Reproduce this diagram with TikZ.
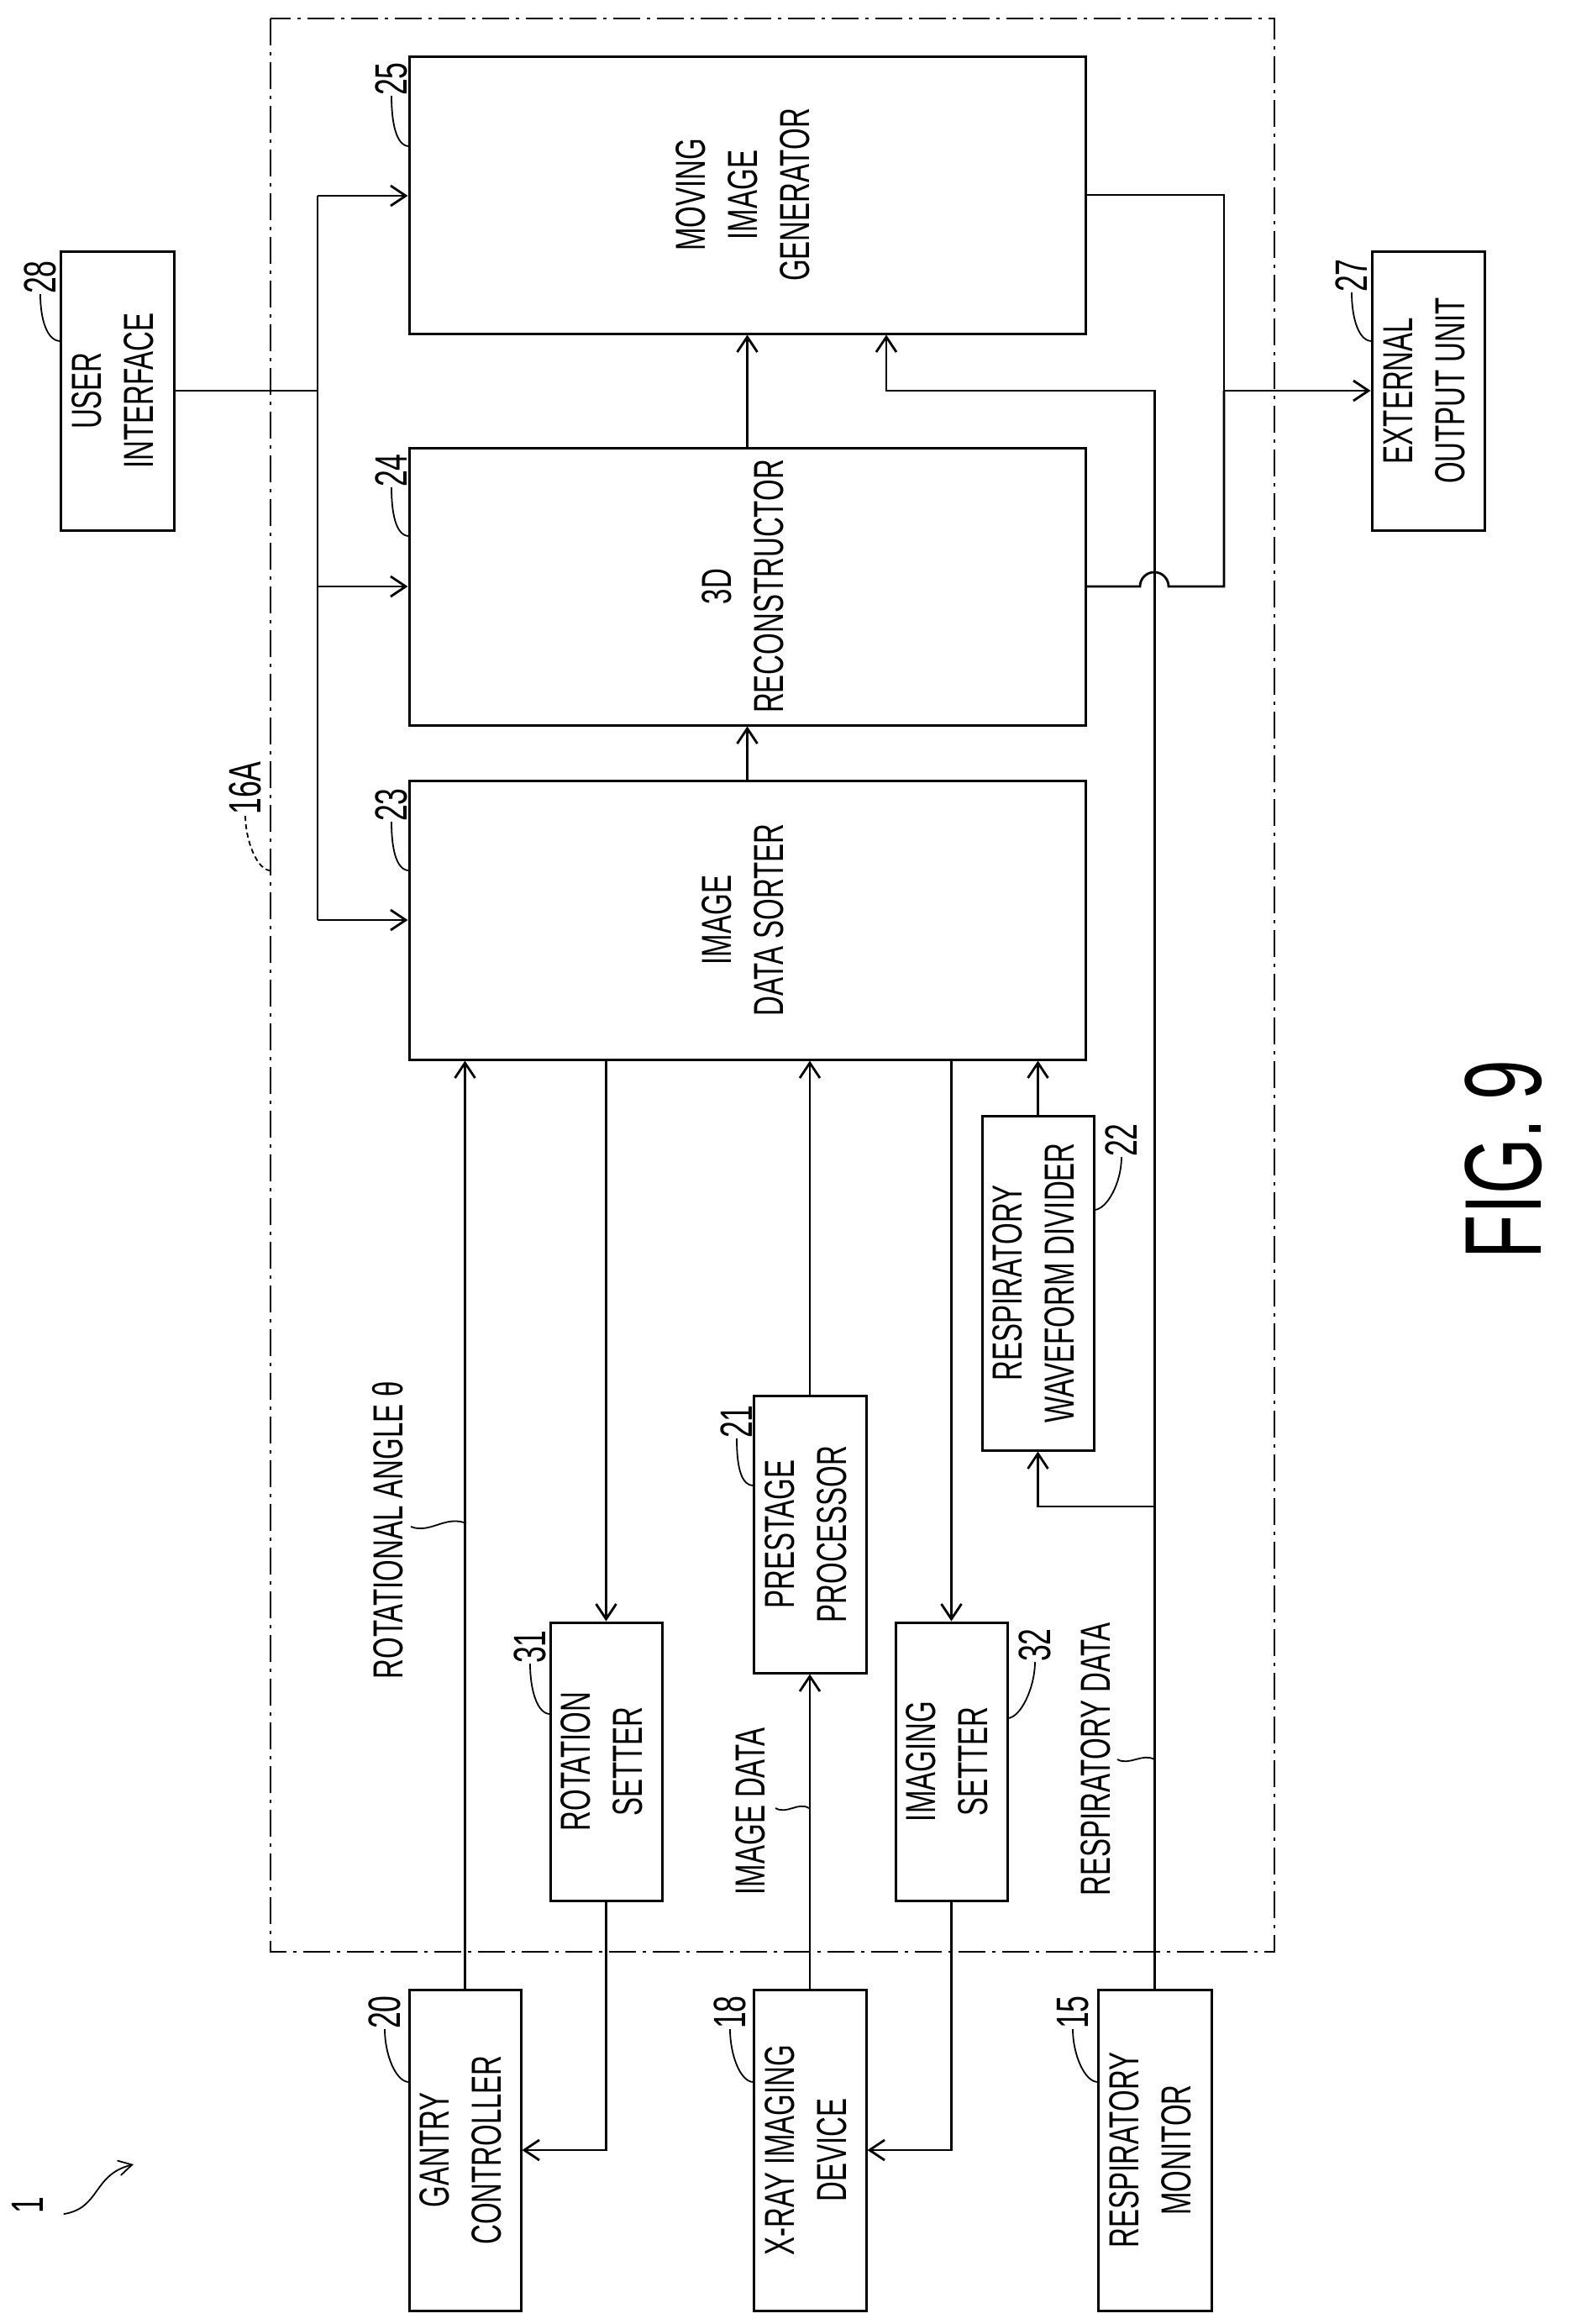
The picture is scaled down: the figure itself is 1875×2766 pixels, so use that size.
\documentclass[tikz,border=0pt]{standalone}
\usepackage{fontspec}
\setmainfont{Liberation Sans}[FakeStretch=0.66]
\usepackage{graphicx}
\usetikzlibrary{arrows.meta, positioning, calc}

\tikzset{
  box/.style  = {draw, rectangle, line width=3pt, inner sep=0pt, font=\fontsize{50}{62}\selectfont},
  num/.style  = {inner sep=0pt, font=\fontsize{54}{60}\selectfont},
  txt/.style  = {inner sep=0pt, font=\fontsize{50}{62}\selectfont},
  line/.style = {line width=2.8pt},
  arr/.style  = {line width=2.8pt, -{Straight Barb[length=18pt, width=24pt, line width=2.8pt]}},
  lead/.style = {line width=1.8pt},
  frame/.style= {line width=2pt, dash pattern=on 32pt off 8pt on 4pt off 8pt},
}
\newcommand{\rtext}[1]{\rotatebox{90}{\begin{tabular}{@{}c@{}}#1\end{tabular}}}
\newcommand{\leadL}[2]{\draw[lead] (#1) .. controls +(-16,0) and +(0,30) .. (#2);}
\newcommand{\leadR}[2]{\draw[lead] (#1) .. controls +(16,0) and +(0,30) .. (#2);}

\begin{document}
\begin{tikzpicture}[x=1pt, y=-1pt]

\useasboundingbox (0,0) rectangle (1875,2766);

% frame 16A
\draw [frame] (322,22) rectangle (1517,2323);

% boxes
\node [box, minimum width=135pt, minimum height=332pt] (ui)  at (139.5,465)  {\rtext{USER\\INTERFACE}};
\node [box, minimum width=805pt, minimum height=330pt] (mig) at (889.5,232)  {\rtext{MOVING\\IMAGE\\GENERATOR}};
\node [box, minimum width=805pt, minimum height=330pt] (rec) at (889.5,698)  {\rtext{3D\\RECONSTRUCTOR}};
\node [box, minimum width=805pt, minimum height=332pt] (srt) at (889.5,1095) {\rtext{IMAGE\\DATA SORTER}};
\node [box, minimum width=134pt, minimum height=332pt] (ext) at (1700,465)   {\rtext{EXTERNAL\\OUTPUT UNIT}};
\node [box, minimum width=133pt, minimum height=398pt] (rws) at (1235.5,1527){\rtext{RESPIRATORY\\WAVEFORM DIVIDER}};
\node [box, minimum width=134pt, minimum height=330pt] (pre) at (964,1826)   {\rtext{PRESTAGE\\PROCESSOR}};
\node [box, minimum width=133pt, minimum height=331pt] (rot) at (721.5,2096.5) {\rtext{ROTATION\\SETTER}};
\node [box, minimum width=133pt, minimum height=331pt] (ims) at (1132.5,2096.5){\rtext{IMAGING\\SETTER}};
\node [box, minimum width=133pt, minimum height=382pt] (gan) at (553.5,2559)  {\rtext{GANTRY\\CONTROLLER}};
\node [box, minimum width=134pt, minimum height=382pt] (xry) at (964,2559)    {\rtext{X-RAY IMAGING\\DEVICE}};
\node [box, minimum width=135pt, minimum height=382pt] (rsm) at (1374.5,2559) {\rtext{RESPIRATORY\\MONITOR}};

% reference numbers
\node [num] (n28) at (48,330)    {\rotatebox{90}{28}};
\node [num] (n25) at (466,94)    {\rotatebox{90}{25}};
\node [num] (n24) at (466,560)   {\rotatebox{90}{24}};
\node [num] (n23) at (466,958)   {\rotatebox{90}{23}};
\node [num] (n27) at (1609,328)  {\rotatebox{90}{27}};
\node [num] (n31) at (631,1960)  {\rotatebox{90}{31}};
\node [num] (n21) at (877,1692)  {\rotatebox{90}{21}};
\node [num] (n32) at (1232,1958) {\rotatebox{90}{32}};
\node [num] (n22) at (1335,1357) {\rotatebox{90}{22}};
\node [num] (n20) at (458,2395)  {\rotatebox{90}{20}};
\node [num] (n18) at (869,2395)  {\rotatebox{90}{18}};
\node [num] (n15) at (1277,2395) {\rotatebox{90}{15}};
\node [num] (n16) at (292,938)   {\rotatebox{90}{16A}};
\node [num] (n1)  at (33,2625)   {\rotatebox{90}{1}};

\leadL{72,406}{n28.south}
\leadL{487,174}{n25.south}
\leadL{487,638}{n24.south}
\leadL{487,1036}{n23.south}
\leadL{1633,406}{n27.south}
\leadL{655,2040}{n31.south}
\leadL{897,1768}{n21.south}
\leadR{1199,2045}{n32.south}
\leadR{1302,1440}{n22.south}
\leadL{487,2478}{n20.south}
\leadL{897,2478}{n18.south}
\leadL{1307,2478}{n15.south}
\draw [lead, dash pattern=on 6pt off 4pt] (322,1036) .. controls +(-16,0) and +(0,30) .. (n16.south);
\draw [lead, -{Straight Barb[length=16pt, width=18pt]}] (n1.south east) ++(24,0) .. controls (120,2628) and (110,2588) .. (159,2576);

% signal labels
\node [txt] (ang) at (462,1821)  {\rotatebox{90}{ROTATIONAL ANGLE θ}};
\node [txt] (img) at (893,2156)  {\rotatebox{90}{IMAGE DATA}};
\node [txt] (rsd) at (1304,2094) {\rotatebox{90}{RESPIRATORY DATA}};
\draw [lead] (555,1813) .. controls (530,1803) and (512,1826) .. (489,1817);
\draw [lead] (963,2152) .. controls (950,2144) and (937,2160) .. (923,2152);
\draw [lead] (1374,2094) .. controls (1360,2086) and (1344,2102) .. (1330,2094);

% user interface bus
\coordinate (bt) at (378,233);
\coordinate (bb) at (378,1095);
\draw [line] (ui.east) -- (ui.east -| bt);
\draw [line] (bt) -- (bb);
\draw [arr] (bt) -- (bt -| mig.west);
\draw [arr] (378,698) -- (rec.west);
\draw [arr] (bb) -- (srt.west);

% main chain
\draw [arr] (srt.north) -- (rec.south);
\draw [arr] (rec.north) -- (mig.south);

% outputs
\coordinate (jn) at (1457,465);
\draw [line] (mig.east) -| (jn);
\draw [line] (rec.east) -- (1357,698) arc[start angle=180, end angle=0, radius=17pt] -- (1457,698) -- (jn);
\draw [arr] (jn) -- (ext.west);

% respiratory data
\draw [arr] (rsm.north) -- (1374.5,465) -| (mig.south -| 1055,0);
\draw [arr] (1374.5,1793) -| (rws.south);
\draw [arr] (rws.north) -- (rws.north |- srt.south);

% lower connections
\draw [arr] (gan.north) -- (gan.north |- srt.south);
\draw [arr] (srt.south -| rot.north) -- (rot.north);
\draw [arr] (rot.south) |- (gan.east);
\draw [arr] (xry.north) -- (pre.south);
\draw [arr] (pre.north) -- (pre.north |- srt.south);
\draw [arr] (srt.south -| ims.north) -- (ims.north);
\draw [arr] (ims.south) |- (xry.east);

% figure label
\node [inner sep=0pt, font=\fontsize{130}{130}\selectfont] (fig) at (1790,1380) {\rotatebox{90}{FIG.\,9}};

\end{tikzpicture}
\end{document}
